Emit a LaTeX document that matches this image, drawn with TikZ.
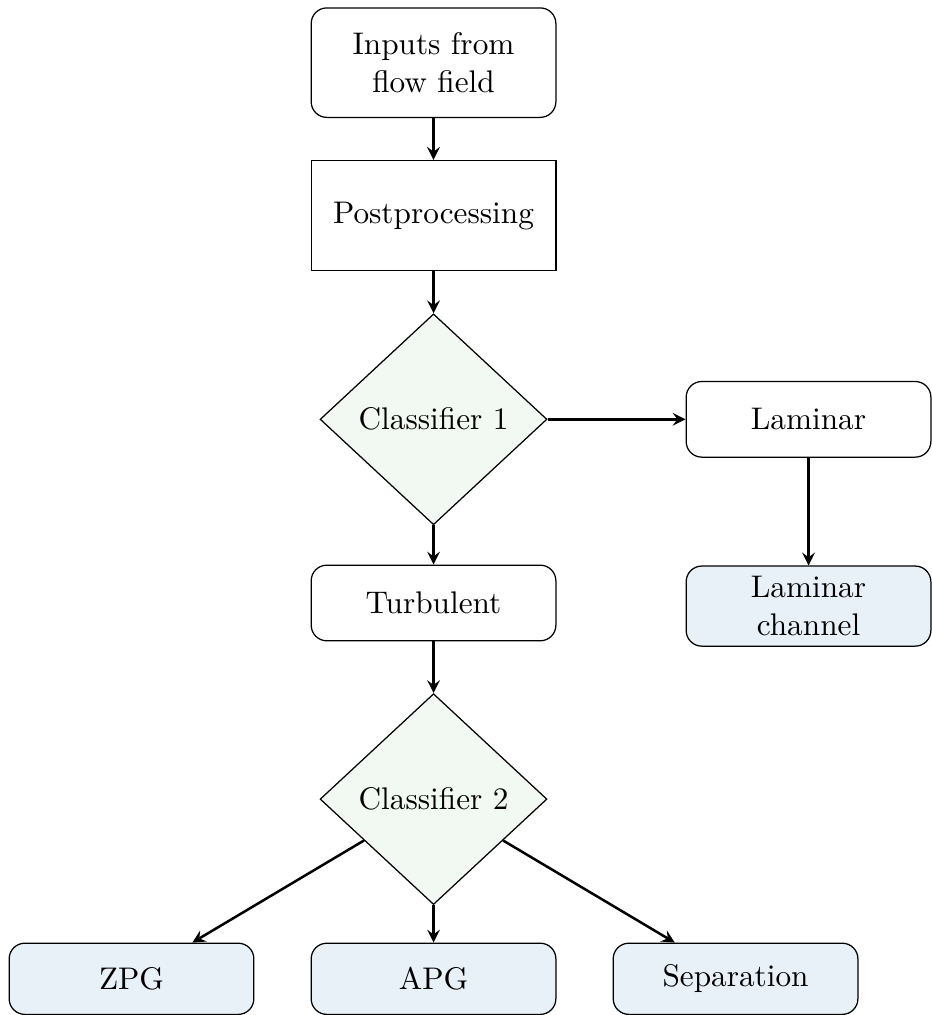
\documentclass[tikz,border=0pt]{standalone}
\usepackage[usenames,dvipsnames,svgnames]{xcolor}
\usetikzlibrary{shapes.geometric,arrows}
\usetikzlibrary{positioning}
\definecolor{ClassFill}{RGB}{242,249,242}
\definecolor{ResFill}{RGB}{232,240,248}

\begin{document}
\begin{tikzpicture}[>=stealth, auto,
		box/.style={draw, rounded corners=5pt, minimum width=2.75cm, minimum height=0.85cm, align=center},
		decide/.style={draw, diamond, fill=ClassFill, inner sep=0pt, minimum width=2.55cm, minimum height=2.37cm},
		result/.style={box, fill=ResFill},
		flow/.style={->, thick}]
			\node[box, minimum height=1.23cm] (Inputs) {Inputs from\\flow field};
			\node[draw, minimum width=2.75cm, minimum height=1.24cm, below=0.47cm of Inputs] (Post) {Postprocessing};
			\node[decide, below=0.47cm of Post] (Class1) {Classifier 1};
			\node[box, right=1.55cm of Class1] (Lam) {Laminar};
			\node[result, minimum height=0.86cm, below=1.21cm of Lam] (LamChan) {Laminar\\channel};
			\node[box, below=0.44cm of Class1] (Turb) {Turbulent};
			\node[decide, below=0.58cm of Turb] (Class2) {Classifier 2};
			\node[result, minimum height=0.8cm, below=0.42cm of Class2] (APG) {APG};
			\node[result, minimum height=0.8cm, left=0.63cm of APG] (ZPG) {ZPG};
			\node[result, minimum height=0.8cm, right=0.63cm of APG] (Sep) {Separation};
			\draw[flow] (Inputs) -- (Post);
			\draw[flow] (Post) -- (Class1);
			\draw[flow] (Class1) -- (Lam);
			\draw[flow] (Lam) -- (LamChan);
			\draw[flow] (Class1) -- (Turb);
			\draw[flow] (Turb) -- (Class2);
			\draw[flow] (Class2) -- (ZPG);
			\draw[flow] (Class2) -- (APG);
			\draw[flow] (Class2) -- (Sep);
			\useasboundingbox (-4.872,0.704) rectangle (5.530,-10.637);
		\end{tikzpicture}
\end{document}
